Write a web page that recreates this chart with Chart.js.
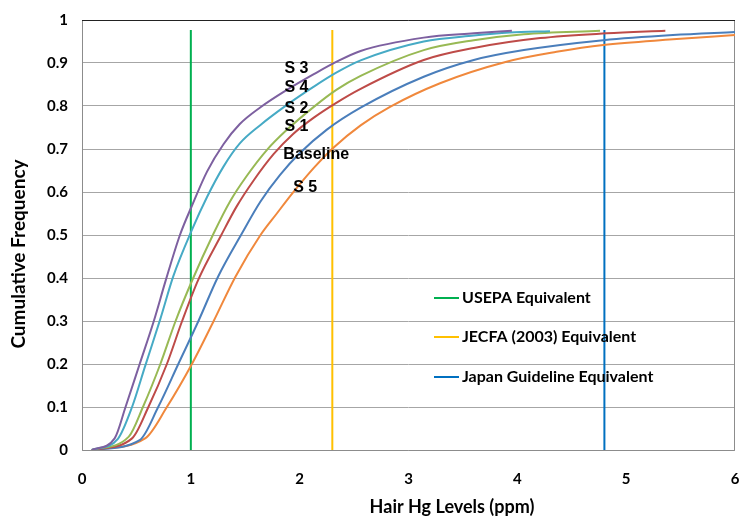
<!DOCTYPE html>
<html>
    <head>
        <meta charset="utf-8">
        <title>Hair Hg cumulative frequency</title>
        <script src="https://cdn.jsdelivr.net/npm/chart.js@4.4.1/dist/chart.umd.min.js"></script>
        <style>
            body { margin: 0; background: #fff; }
            #wrap { position: relative; width: 741px; height: 517px; }
        </style>
    </head>
    <body>
        <div id="wrap"><canvas id="graph1"></canvas></div>

        <script>
            // hair Hg level (ppm) / cumulative frequency
            const s3Hg   = [0.09, 0.30, 0.40, 0.53, 0.66, 0.77, 0.90, 1.01, 1.15, 1.30, 1.45, 1.64, 1.88, 2.13, 2.34, 2.56, 3.14, 3.60, 3.95];
            const s3Freq = [0, 0.027, 0.10, 0.20, 0.30, 0.395, 0.50, 0.568, 0.648, 0.711, 0.758, 0.797, 0.837, 0.874, 0.903, 0.928, 0.959, 0.969, 0.975];

            const s4Hg   = [0.09, 0.33, 0.46, 0.58, 0.72, 0.84, 1.01, 1.15, 1.30, 1.45, 1.64, 1.88, 2.13, 2.34, 2.56, 3.14, 3.60, 3.93, 4.30];
            const s4Freq = [0, 0.026, 0.10, 0.195, 0.305, 0.405, 0.512, 0.589, 0.659, 0.713, 0.756, 0.802, 0.845, 0.878, 0.906, 0.950, 0.964, 0.971, 0.974];

            const s2Hg   = [0.09, 0.43, 0.56, 0.72, 0.86, 1.01, 1.21, 1.36, 1.51, 1.70, 1.88, 2.13, 2.34, 2.56, 3.14, 3.60, 4.06, 4.76];
            const s2Freq = [0, 0.031, 0.10, 0.20, 0.30, 0.393, 0.504, 0.578, 0.636, 0.698, 0.744, 0.798, 0.838, 0.870, 0.930, 0.953, 0.967, 0.975];

            const s1Hg   = [0.09, 0.46, 0.61, 0.78, 0.92, 1.07, 1.28, 1.42, 1.58, 1.76, 1.94, 2.13, 2.34, 2.56, 3.14, 3.60, 4.21, 4.82, 5.36];
            const s1Freq = [0, 0.027, 0.10, 0.20, 0.30, 0.397, 0.500, 0.566, 0.628, 0.688, 0.735, 0.773, 0.808, 0.840, 0.907, 0.935, 0.958, 0.969, 0.975];

            const baseHg   = [0.09, 0.53, 0.70, 0.885, 1.07, 1.25, 1.47, 1.64, 1.82, 2.00, 2.25, 2.56, 3.14, 3.60, 4.06, 4.79, 5.43, 6.00];
            const baseFreq = [0, 0.023, 0.10, 0.20, 0.30, 0.403, 0.504, 0.578, 0.640, 0.690, 0.745, 0.796, 0.868, 0.907, 0.930, 0.953, 0.965, 0.972];

            const s5Hg   = [0.09, 0.58, 0.78, 1.01, 1.21, 1.41, 1.64, 1.79, 1.94, 2.13, 2.31, 2.56, 2.83, 3.29, 3.90, 4.36, 4.79, 5.43, 6.00];
            const s5Freq = [0, 0.027, 0.10, 0.20, 0.30, 0.403, 0.50, 0.55, 0.599, 0.656, 0.703, 0.755, 0.798, 0.853, 0.903, 0.926, 0.942, 0.955, 0.965];

            // guideline equivalents (ppm) drawn as vertical lines
            const guideNames  = ['USEPA Equivalent', 'JECFA (2003) Equivalent', 'Japan Guideline Equivalent'];
            const guideHg     = [1.0, 2.3, 4.8];
            const guideTop    = 0.977;

            const xTicks = [0, 1, 2, 3, 4, 5, 6];
            const yTickLabels = ['0', '0.1', '0.2', '0.3', '0.4', '0.5', '0.6', '0.7', '0.8', '0.9', '1'];

            // curve labels: text, x (ppm), y (freq)
            const curveLabels = [
                ['S 3', 1.86, 0.888],
                ['S 4', 1.86, 0.842],
                ['S 2', 1.86, 0.795],
                ['S 1', 1.86, 0.751],
                ['Baseline', 1.85, 0.687],
                ['S 5', 1.94, 0.610],
            ];

            const pts = (xs, ys) => xs.map((x, i) => ({ x: x, y: ys[i] }));

            function curve(label, xs, ys, color) {
                return {
                    label: label,
                    data: pts(xs, ys),
                    borderColor: color,
                    borderWidth: 2,
                    pointRadius: 0,
                    cubicInterpolationMode: 'monotone',
                    fill: false,
                };
            }

            const guideColors = ['#00b050', '#ffc000', '#0070c0'];

            const datasets = [
                curve('S 3', s3Hg, s3Freq, '#7d60a0'),
                curve('S 4', s4Hg, s4Freq, '#46aac5'),
                curve('S 2', s2Hg, s2Freq, '#98b954'),
                curve('S 1', s1Hg, s1Freq, '#be4b48'),
                curve('Baseline', baseHg, baseFreq, '#4a7ebb'),
                curve('S 5', s5Hg, s5Freq, '#f0883c'),
            ];
            guideHg.forEach((v, i) => {
                datasets.push({
                    label: guideNames[i],
                    data: [{ x: v, y: 0 }, { x: v, y: guideTop }],
                    borderColor: guideColors[i],
                    borderWidth: 2,
                    pointRadius: 0,
                    fill: false,
                });
            });

            const extras = {
                id: 'extras',
                beforeDatasetsDraw(chart) {
                    const { ctx, chartArea: a } = chart;
                    ctx.save();
                    ctx.lineWidth = 1;
                    ctx.strokeStyle = '#8c8c8c';
                    ctx.beginPath();
                    ctx.moveTo(a.left + 0.5, a.top);
                    ctx.lineTo(a.left + 0.5, a.bottom + 0.5);
                    ctx.lineTo(a.right - 0.5, a.bottom + 0.5);
                    ctx.lineTo(a.right - 0.5, a.top);
                    ctx.stroke();
                    ctx.strokeStyle = '#222';
                    ctx.beginPath();
                    ctx.moveTo(a.left, a.top + 0.5);
                    ctx.lineTo(a.right, a.top + 0.5);
                    ctx.stroke();
                    ctx.restore();
                },
                afterDraw(chart) {
                    const { ctx } = chart;
                    const xs = chart.scales.x, ys = chart.scales.y;
                    ctx.save();

                    ctx.fillStyle = '#000';
                    ctx.font = 'bold 16px "Liberation Sans", Arial, sans-serif';
                    ctx.textBaseline = 'middle';
                    ctx.textAlign = 'left';
                    curveLabels.forEach(([t, x, y]) => {
                        ctx.fillText(t, xs.getPixelForValue(x), ys.getPixelForValue(y));
                    });

                    // legend for guideline lines
                    ctx.font = 'bold 16px Lato, "Open Sans", sans-serif';
                    const lx = 434, rows = [298, 337, 377];
                    guideNames.forEach((n, i) => {
                        ctx.strokeStyle = guideColors[i];
                        ctx.lineWidth = 2;
                        ctx.beginPath();
                        ctx.moveTo(lx, rows[i]);
                        ctx.lineTo(lx + 25, rows[i]);
                        ctx.stroke();
                        ctx.fillText(n, lx + 28, rows[i]);
                    });

                    // axis titles
                    ctx.textAlign = 'center';
                    ctx.font = 'bold 18px Lato, "Open Sans", sans-serif';
                    ctx.fillText('Hair Hg Levels (ppm)', 452, 507);
                    ctx.font = 'bold 19px Lato, "Open Sans", sans-serif';
                    ctx.translate(19, 254);
                    ctx.rotate(-Math.PI / 2);
                    ctx.fillText('Cumulative Frequency', 0, 0);
                    ctx.restore();
                }
            };

            const tickFont = { family: 'Lato, "Open Sans", sans-serif', size: 15, weight: 'bold' };

            new Chart('graph1', {
                type: 'line',
                data: { datasets: datasets },
                plugins: [extras],
                options: {
                    responsive: true,
                    maintainAspectRatio: false,
                    animation: false,
                    layout: { padding: { top: 20, right: 6, left: 0, bottom: 0 } },
                    plugins: {
                        legend: { display: false },
                        tooltip: { enabled: false },
                    },
                    scales: {
                        x: {
                            type: 'linear',
                            min: xTicks[0],
                            max: xTicks[xTicks.length - 1],
                            afterBuildTicks: (s) => { s.ticks = xTicks.map(v => ({ value: v })); },
                            afterFit: (s) => { s.height = 67; s.paddingRight = 0; s.paddingLeft = 0; },
                            grid: { display: false, drawTicks: false },
                            border: { display: false },
                            ticks: { color: '#000', font: tickFont, padding: 20, maxRotation: 0 },
                        },
                        y: {
                            min: 0,
                            max: 1,
                            afterFit: (s) => { s.width = 82; s.paddingTop = 0; s.paddingBottom = 0; },
                            grid: { color: '#a6a6a6', drawTicks: false },
                            border: { display: false },
                            ticks: {
                                stepSize: 0.1,
                                color: '#000',
                                font: tickFont,
                                padding: 14,
                                callback: (v, i) => yTickLabels[i],
                            },
                        },
                    },
                },
            });
        </script>
    </body>
</html>
